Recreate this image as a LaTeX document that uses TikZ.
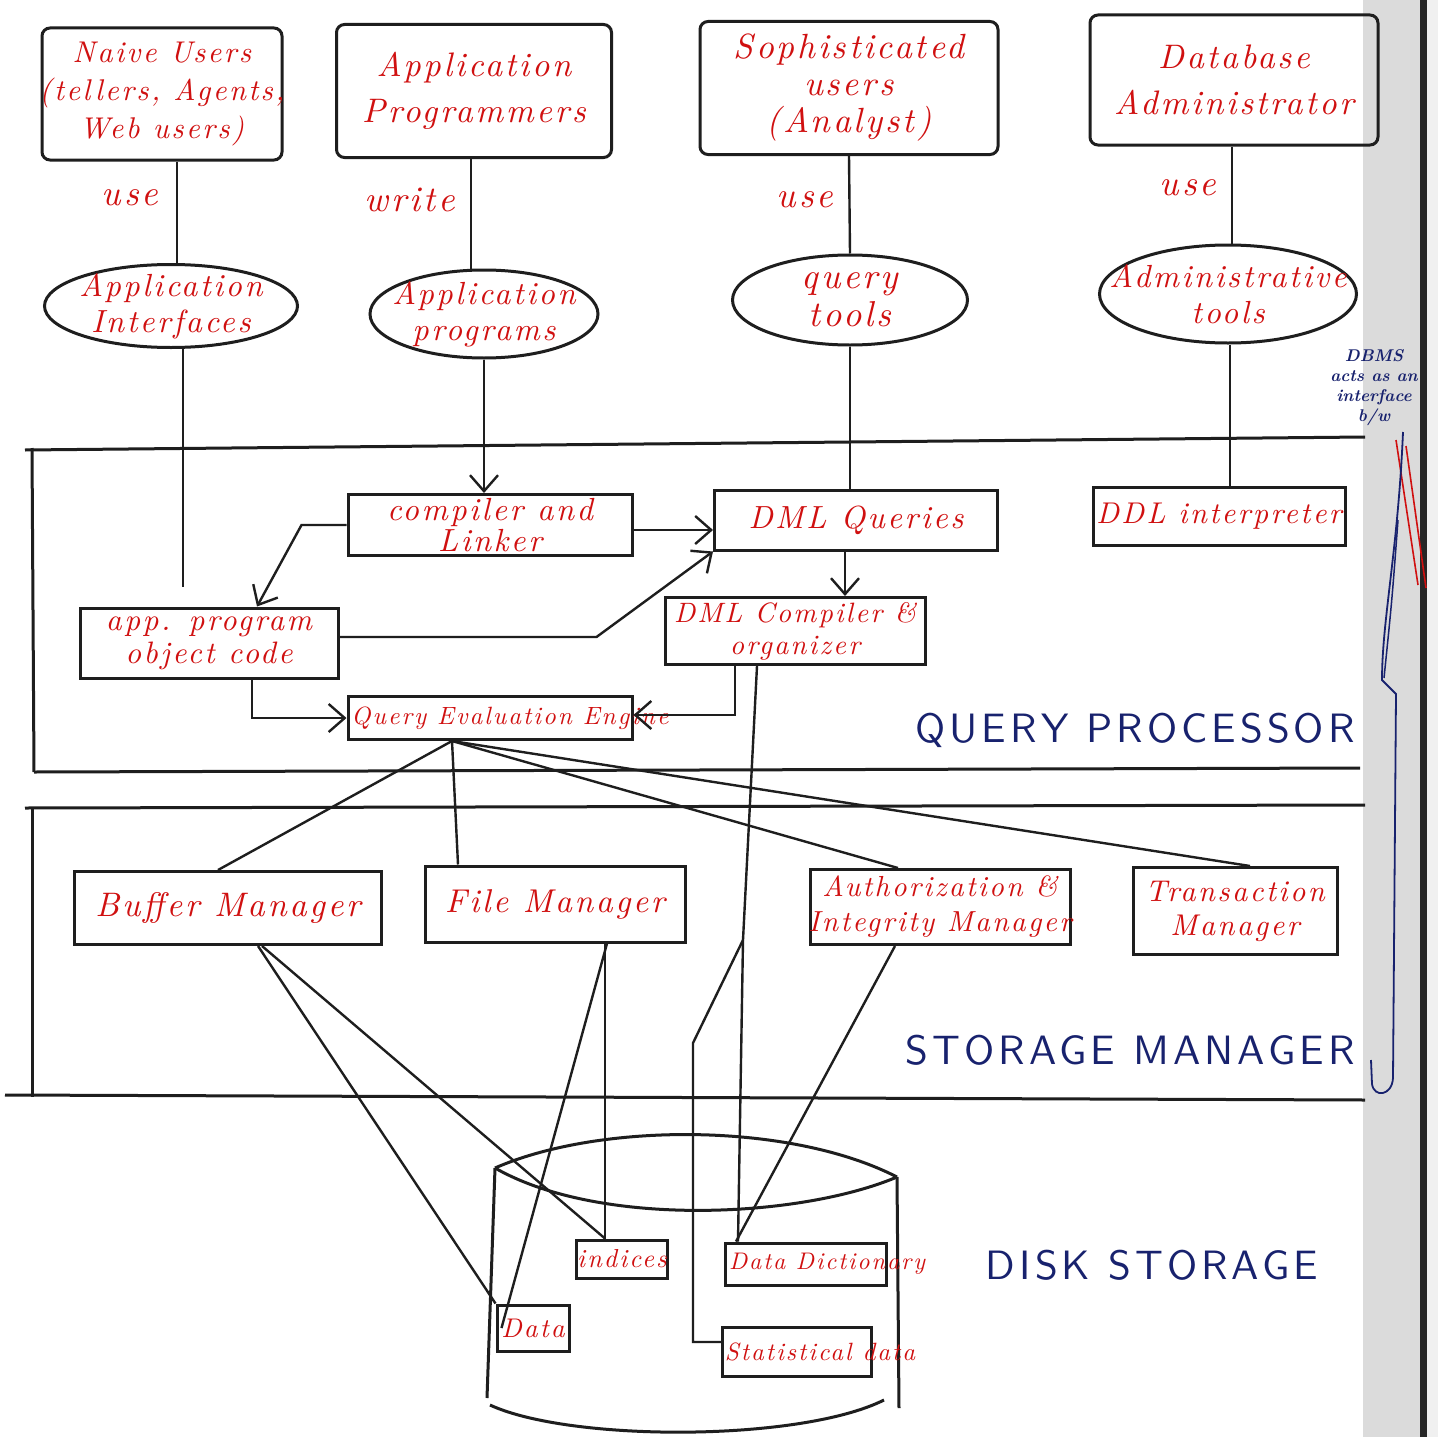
\documentclass[tikz,border=0pt]{standalone}
\usepackage{fontspec}
\usetikzlibrary{arrows.meta,shapes.geometric}
\newfontfamily\hand{lmroman10-italic}[Extension=.otf, LetterSpace=8]
\newfontfamily\blockcaps{lmsans10-regular}[Extension=.otf, LetterSpace=10]
\definecolor{ink}{HTML}{1E1E1E}
\definecolor{pen}{HTML}{D01010}
\definecolor{bluepen}{HTML}{18226E}
\tikzset{
  rf/.style 2 args={font=\hand\fontsize{#1}{#2}\selectfont},
  lbl/.style={text=pen, rf={36}{40}, align=center, inner sep=0pt},
  % negative x-padding keeps every frame at its minimum size; long words may run past it
  box/.style={draw=ink, line width=3pt, rectangle, text=pen, rf={30}{34}, align=center,
              inner xsep=-50pt, inner ysep=-4pt},
  ubox/.style={box, rounded corners=8pt},
  bubble/.style={draw=ink, line width=3pt, ellipse, inner xsep=-50pt, inner ysep=-10pt,
                 text=pen, align=center, rf={32}{36}},
  wire/.style={draw=ink, line width=2.4pt},
  arr/.style={wire, -{Straight Barb[length=16pt,width=28pt,line width=2.4pt]}},
  sect/.style={text=bluepen, font=\blockcaps\fontsize{41}{46}\selectfont, inner sep=0pt},
  divider/.style={draw=ink, line width=3pt},
  note/.style={text=bluepen, font=\bfseries\itshape\fontsize{17}{20}\selectfont, align=center, inner sep=0pt}
}
\begin{document}
\begin{tikzpicture}[x=1pt,y=-1pt]
\useasboundingbox (0,0) rectangle (1438,1437);
\fill[white] (0,0) rectangle (1438,1437);
% binding edge of the notebook page
\fill[black!14] (1363,0) rectangle (1420,1437);
\fill[black!6] (1427,0) rectangle (1438,1437);
\draw[line width=7pt, black!85] (1423,0) -- (1423,1437);

% ---------- users ----------
\node[ubox, minimum width=240, minimum height=132, rf={30}{38}] (naive) at (162,94) {Naive Users\\(tellers, Agents,\\Web users)};
\node[ubox, minimum width=275, minimum height=133, rf={34}{46}] (prog) at (474,91) {Application\\Programmers};
\node[ubox, minimum width=298, minimum height=133, rf={35}{37}] (soph) at (849,88) {Sophisticated\\users\\(Analyst)};
\node[ubox, minimum width=288, minimum height=130, rf={34}{46}] (dba) at (1234,80) {Database\\Administrator};

\node[lbl] (use1) at (130,198) {use};
\node[lbl] (write) at (410,200) {write};
\node[lbl] (use2) at (805,200) {use};
\node[lbl] (use3) at (1188,188) {use};

% ---------- tools ----------
\node[bubble, minimum width=253, minimum height=83] (aif) at (171,306) {Application\\Interfaces};
\node[bubble, minimum width=228, minimum height=88] (aprog) at (484,314) {Application\\programs};
\node[bubble, minimum width=235, minimum height=90, rf={36}{38}] (qtool) at (850,300) {query\\tools};
\node[bubble, minimum width=257, minimum height=98] (atool) at (1228,294) {Administrative\\tools};

\draw[wire] ([xshift=15pt]naive.south) -- ([xshift=6pt]aif.north);
\draw[wire] ([xshift=-3pt]prog.south) -- ([xshift=-13pt]aprog.north);
\draw[wire] (soph.south) -- (qtool.north);
\draw[wire] ([xshift=-2pt]dba.south) -- ([xshift=4pt]atool.north);

% ---------- query processor ----------
\draw[divider] (25,450) -- (1365,437);
\draw[divider] (32,448) -- (34,772);
\draw[divider] (34,772) -- (1360,768);

\node[box, minimum width=284, minimum height=61, rf={32}{31}] (comp) at (490,525) {compiler and\\Linker};
\node[box, minimum width=283, minimum height=60, rf={32}{34}] (dmlq) at (856,520) {DML Queries};
\node[box, minimum width=252, minimum height=58] (ddl) at (1219,516) {DDL interpreter};
\node[box, minimum width=258, minimum height=70, rf={31}{33}] (app) at (209,643) {app. program\\object code};
\node[box, minimum width=260, minimum height=67, rf={28}{32}] (dmlc) at (795,631) {DML Compiler \&\\organizer};
\node[box, minimum width=284, minimum height=43, rf={25}{30}] (qee) at (490,718) {\hspace*{40pt}Query Evaluation Engine};

\coordinate (ifend) at (183,587);
\draw[wire] ([xshift=12pt]aif.south) -- (ifend);
\draw[arr] (aprog.south) -- (aprog.south |- comp.north);
\draw[wire] (qtool.south) -- (qtool.south |- dmlq.north);
\draw[wire] ([xshift=2pt]atool.south) -- ([xshift=2pt]atool.south |- ddl.north);
\draw[arr] ([yshift=-5pt]comp.east) -- ([yshift=-5pt]comp.east -| dmlq.west);
\draw[arr] (comp.west) -- ++(-45,0) -- ([xshift=48pt]app.north);
\draw[arr] ([yshift=6pt]app.east) -- ++(257,0) -- (dmlq.south west);
\draw[arr] ([xshift=-11pt]dmlq.south) -- ([xshift=-11pt]dmlq.south |- dmlc.north);
\draw[arr] ([xshift=43pt]app.south) |- (qee.west);
\draw[arr] ([xshift=-60pt]dmlc.south) |- ([yshift=3pt]qee.east);

\node[sect] (qp) at (1135,730) {QUERY PROCESSOR};

% ---------- storage manager ----------
\draw[divider] (25,808) -- (1365,805);
\draw[divider] (32,808) -- (32,1097);
\draw[divider] (5,1095) -- (1365,1100);

\node[box, minimum width=307, minimum height=73, rf={34}{36}] (buf) at (228,908) {Buffer Manager};
\node[box, minimum width=260, minimum height=76, rf={33}{36}] (file) at (555,904) {File Manager};
\node[box, minimum width=260, minimum height=75, rf={29}{35}] (auth) at (940,907) {Authorization \&\\Integrity Manager};
\node[box, minimum width=204, minimum height=87, rf={30}{34}] (trans) at (1235,911) {Transaction\\Manager};

\coordinate (qb) at ([xshift=-38pt]qee.south);
\draw[wire] (qb) -- ([xshift=-10pt]buf.north);
\draw[wire] (qb) -- ([xshift=-97pt]file.north);
\draw[wire] (qb) -- ([xshift=-42pt]auth.north);
\draw[wire] (qb) -- ([xshift=15pt]trans.north);

\node[sect] (sm) at (1130,1050) {STORAGE MANAGER};

% ---------- disk storage ----------
\draw[line width=3pt, ink] (495,1168) .. controls (600,1122) and (790,1122) .. (897,1177);
\draw[line width=3pt, ink] (495,1168) .. controls (600,1228) and (800,1218) .. (897,1177);
\draw[line width=3pt, ink] (495,1168) -- (487,1398);
\draw[line width=3pt, ink] (897,1177) -- (899,1408);
\draw[line width=3pt, ink] (490,1405) .. controls (570,1442) and (800,1442) .. (884,1400);

\node[box, minimum width=91, minimum height=38, rf={26}{30}] (idx) at (622,1259) {indices};
\node[box, minimum width=161, minimum height=42, rf={24}{30}] (dd) at (806,1264) {\hspace*{42pt}Data Dictionary};
\node[box, minimum width=72, minimum height=46, rf={27}{30}] (data) at (533,1328) {Data};
\node[box, minimum width=149, minimum height=49, rf={25}{30}] (stat) at (797,1352) {\hspace*{46pt}Statistical data};

\draw[wire] ([xshift=30pt]buf.south) -- (data.north west);
\draw[wire] ([xshift=34pt]buf.south) -- ([xshift=-17pt]idx.north);
\draw[wire] ([xshift=50pt]file.south) -- ([xshift=-17pt]idx.north);
\draw[wire] ([xshift=52pt]file.south) -- ([xshift=6pt]data.west);
\draw[wire] ([xshift=-45pt]auth.south) -- ([xshift=-70pt]dd.north);
\coordinate (fork) at (743,940);
\draw[wire] ([xshift=-38pt]dmlc.south) -- (fork) -- ([xshift=-68pt]dd.north);
\draw[wire] (fork) -- ++(-50,103) |- ([yshift=10pt]stat.west);

\node[sect] (ds) at (1152,1265) {DISK STORAGE};

% ---------- margin note ----------
\node[note] (dbmsnote) at (1374,388) {DBMS\\acts as an\\interface\\b/w};
\draw[pen, line width=1.6pt] (1396,440) -- (1418,585);
\draw[pen, line width=1.6pt] (1406,446) -- (1426,588);
\draw[bluepen, line width=1.8pt] (1403,432) .. controls (1398,550) and (1382,620) .. (1382,680) -- (1396,694) -- (1393,1078) .. controls (1392,1096) and (1374,1098) .. (1372,1084) -- (1371,1060);
\draw[bluepen, line width=1.5pt] (1398,520) .. controls (1392,600) .. (1384,678);
\end{tikzpicture}
\end{document}
